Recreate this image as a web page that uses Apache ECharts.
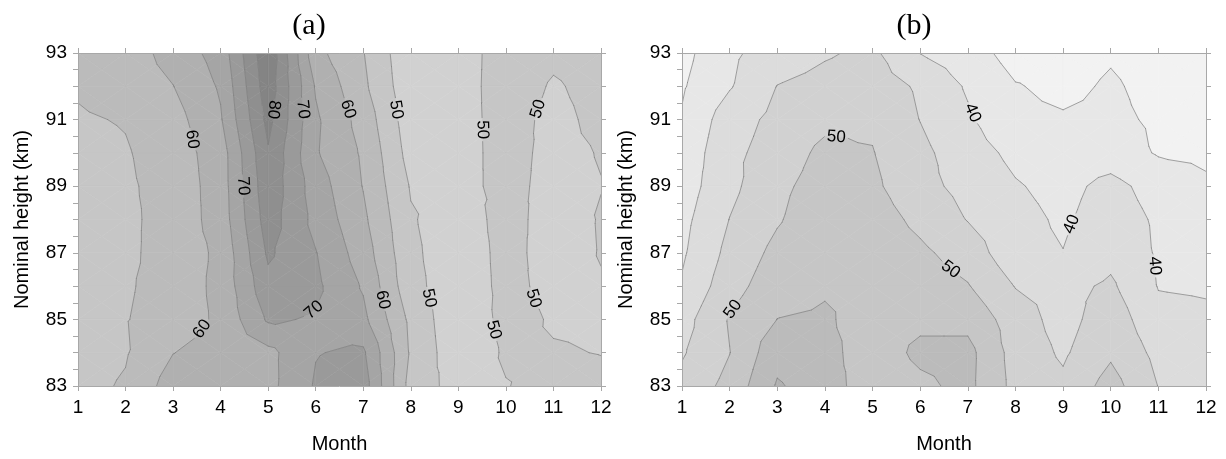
<!DOCTYPE html>
<html>
<head>
<meta charset="utf-8">
<script src="https://cdn.jsdelivr.net/npm/echarts@6/dist/echarts.min.js"></script>
<style>
  html, body { margin: 0; padding: 0; background: #ffffff; }
  #chart { width: 1226px; height: 459px; }
</style>
</head>
<body>
<div id="chart"></div>
<script>
// Grid coordinates of the gridded fields
const months = [1, 2, 3, 4, 5, 6, 7, 8, 9, 10, 11, 12];
const heights = [93, 92, 91, 90, 89, 88, 87, 86, 85, 84, 83];

// Panel (a): one row per height (93 km at the top), one column per month
const valuesA = [
  [56, 57.3, 62, 67, 84, 61.5, 55.2, 46, 47, 53, 51, 52],
  [55.5, 57, 59.9, 65.6, 83, 64.5, 56, 46.5, 47.5, 52.7, 49.5, 51.5],
  [54.5, 55.3, 58, 64.5, 81.5, 65.8, 58, 47, 48, 52, 48.7, 51.2],
  [53.5, 54.6, 57.5, 62.5, 79.5, 65.5, 59.3, 48, 48.5, 51.4, 48.9, 50.2],
  [53, 54.3, 56.8, 62.4, 78.5, 67.5, 59.8, 49.6, 48.8, 51.1, 48.9, 49.9],
  [52.5, 54, 56.9, 62.1, 77.5, 68.5, 61, 50.5, 47, 52, 47.7, 50.3],
  [52.3, 54, 57.1, 61, 75.8, 70.2, 62.5, 51, 47, 51.5, 48.1, 50.2],
  [52.5, 54.5, 56.8, 61.4, 73.5, 71, 64.5, 51.5, 47, 51.3, 48.7, 49.7],
  [53, 54.8, 57, 61, 70.7, 69.5, 66.25, 53.75, 46, 51.5, 49.6, 49.5],
  [53, 54.6, 59.9, 62, 63.6, 69.8, 70.8, 54.3, 46.5, 50.6, 50.3, 49.9],
  [53.5, 55.5, 62.4, 63, 63.5, 70.5, 72.5, 53, 48, 49.8, 51.8, 51]
];

// Panel (b)
const valuesB = [
  [33.5, 39, 42.5, 44.5, 46, 39.9, 37.3, 33, 33, 34.5, 33, 32],
  [34.5, 39.6, 45.1, 46.5, 47.5, 44.3, 39.4, 35.3, 33.8, 35.6, 33.5, 32.5],
  [35.4, 42.7, 46.35, 48.7, 49.3, 44.9, 40.7, 36, 35.5, 36, 34.3, 33.5],
  [36.5, 43.8, 47.1, 51.3, 50.2, 46.2, 42.2, 38.8, 37, 37.5, 34.6, 34],
  [37.5, 43.75, 48.8, 52.2, 51, 46.5, 43.5, 40.4, 38.5, 41.5, 38, 35.8],
  [38.6, 45.1, 49.5, 53.5, 52.5, 48.7, 44.8, 41.5, 39.3, 42.5, 39.3, 37.5],
  [39.3, 46.4, 51.4, 54, 53.5, 51, 47.7, 41.7, 40.1, 43.5, 39.5, 38.5],
  [40.5, 48, 53, 54.5, 54, 52.5, 50.3, 44.8, 43.5, 45.8, 39.8, 39.5],
  [43, 50.4, 55.05, 55.6, 53, 54, 53.5, 47.5, 43, 48, 41.3, 40.8],
  [44.5, 49.9, 58.4, 56.5, 52.5, 56, 56.5, 48, 44.3, 49.2, 43.6, 42],
  [46.5, 51.5, 60.5, 57.5, 52, 54, 56.3, 48.5, 46, 52, 44.9, 43]
];

// Contour levels shared by both panels
const contourLevels = [30, 35, 40, 45, 50, 55, 60, 65, 70, 75, 80, 85];

// Where the level labels sit: [month, height, level]
const labelSpotsA = [
  [3.37, 90.4, 60], [4.42, 89.0, 70], [5.1, 91.3, 80], [5.71, 91.3, 70],
  [6.65, 91.3, 60], [7.7, 91.3, 50], [9.5, 90.7, 50], [10.61, 91.35, 50],
  [3.56, 84.76, 60], [5.95, 85.3, 70], [7.45, 85.6, 60], [8.25, 85.6, 50],
  [9.78, 84.7, 50], [10.63, 85.65, 50]
];
const labelSpotsB = [
  [4.25, 90.7, 50], [2.07, 85.3, 50], [6.69, 86.6, 50],
  [7.1, 91.2, 40], [9.1, 87.9, 40], [10.87, 86.6, 40]
];

const SANS = '"Liberation Sans", Arial, sans-serif';
const SERIF = '"Liberation Serif", "Times New Roman", serif';

function bandColor(k) {
  const lo = k === 0 ? contourLevels[0] - 5 : contourLevels[k - 1];
  const g = Math.round(242 - 11 * (lo - 30) / 5);
  return 'rgb(' + g + ',' + g + ',' + g + ')';
}

// Split every grid cell into four triangles around its centre
function triangles(values) {
  const tris = [];
  for (let r = 0; r < heights.length - 1; r++) {
    for (let c = 0; c < months.length - 1; c++) {
      const p00 = [months[c], heights[r], values[r][c]];
      const p01 = [months[c + 1], heights[r], values[r][c + 1]];
      const p10 = [months[c], heights[r + 1], values[r + 1][c]];
      const p11 = [months[c + 1], heights[r + 1], values[r + 1][c + 1]];
      const m = [(months[c] + months[c + 1]) / 2, (heights[r] + heights[r + 1]) / 2,
                 (p00[2] + p01[2] + p10[2] + p11[2]) / 4];
      tris.push([p00, p01, m], [p01, p11, m], [p11, p10, m], [p10, p00, m]);
    }
  }
  return tris;
}

function clipPoly(poly, level, keepAbove) {
  const out = [];
  for (let i = 0; i < poly.length; i++) {
    const a = poly[i], b = poly[(i + 1) % poly.length];
    const ina = keepAbove ? a[2] >= level : a[2] <= level;
    const inb = keepAbove ? b[2] >= level : b[2] <= level;
    if (ina) out.push(a);
    if (ina !== inb) {
      const t = (level - a[2]) / (b[2] - a[2]);
      out.push([a[0] + t * (b[0] - a[0]), a[1] + t * (b[1] - a[1]), level]);
    }
  }
  return out;
}

function isobands(tris) {
  const edges = [-Infinity].concat(contourLevels, [Infinity]);
  const out = [];
  tris.forEach(function (t) {
    const vmin = Math.min(t[0][2], t[1][2], t[2][2]);
    const vmax = Math.max(t[0][2], t[1][2], t[2][2]);
    for (let k = 0; k < edges.length - 1; k++) {
      if (edges[k + 1] < vmin || edges[k] > vmax) continue;
      let poly = t;
      if (isFinite(edges[k])) poly = clipPoly(poly, edges[k], true);
      if (poly.length < 3) continue;
      if (isFinite(edges[k + 1])) poly = clipPoly(poly, edges[k + 1], false);
      if (poly.length < 3) continue;
      out.push({ band: k, pts: poly });
    }
  });
  return out;
}

function isolines(tris) {
  const segs = [];
  tris.forEach(function (t) {
    contourLevels.forEach(function (L) {
      const pts = [];
      for (let i = 0; i < 3; i++) {
        const a = t[i], b = t[(i + 1) % 3];
        if ((a[2] >= L) !== (b[2] >= L)) {
          const f = (L - a[2]) / (b[2] - a[2]);
          pts.push([a[0] + f * (b[0] - a[0]), a[1] + f * (b[1] - a[1])]);
        }
      }
      if (pts.length === 2) segs.push({ level: L, a: pts[0], b: pts[1] });
    });
  });
  return segs;
}

// Remove the part of segment A->B lying inside a circle (gap behind a label)
function cutCircle(pieces, A, B, C, R) {
  const dx = B[0] - A[0], dy = B[1] - A[1];
  const fx = A[0] - C[0], fy = A[1] - C[1];
  const a = dx * dx + dy * dy;
  if (a < 1e-9) return pieces;
  const b = 2 * (dx * fx + dy * fy);
  const c = fx * fx + fy * fy - R * R;
  const disc = b * b - 4 * a * c;
  if (disc <= 0) return pieces;
  const s = Math.sqrt(disc);
  const tA = (-b - s) / (2 * a), tB = (-b + s) / (2 * a);
  const out = [];
  pieces.forEach(function (p) {
    const e1 = Math.min(p[1], tA);
    if (e1 > p[0]) out.push([p[0], e1]);
    const s2 = Math.max(p[0], tB);
    if (p[1] > s2) out.push([s2, p[1]]);
  });
  return out;
}

function makeRender(values, spots) {
  const tris = triangles(values);
  const bands = isobands(tris);
  const segs = isolines(tris);
  return function (params, api) {
    const children = [];
    bands.forEach(function (b) {
      const pts = b.pts.map(function (p) { return api.coord([p[0], p[1]]); });
      const col = bandColor(b.band);
      children.push({ type: 'polygon', silent: true, shape: { points: pts },
        style: { fill: col, stroke: col, lineWidth: 0.6 } });
    });

    const placed = spots.map(function (sp) {
      const target = api.coord([sp[0], sp[1]]);
      let best = null, bd = Infinity;
      segs.forEach(function (s) {
        if (s.level !== sp[2]) return;
        const A = api.coord(s.a), B = api.coord(s.b);
        const dx = B[0] - A[0], dy = B[1] - A[1];
        const len2 = dx * dx + dy * dy || 1e-9;
        let t = ((target[0] - A[0]) * dx + (target[1] - A[1]) * dy) / len2;
        t = Math.max(0, Math.min(1, t));
        const P = [A[0] + t * dx, A[1] + t * dy];
        const d = (P[0] - target[0]) * (P[0] - target[0]) + (P[1] - target[1]) * (P[1] - target[1]);
        if (d < bd) { bd = d; best = { P: P, dx: dx, dy: dy }; }
      });
      if (!best) return null;
      let rot = -Math.atan2(best.dy, best.dx);
      const up = 80 * Math.PI / 180, down = -100 * Math.PI / 180;
      while (rot >= up) rot -= Math.PI;
      while (rot < down) rot += Math.PI;
      return { level: sp[2], P: best.P, rot: rot };
    }).filter(Boolean);

    segs.forEach(function (s) {
      const A = api.coord(s.a), B = api.coord(s.b);
      let pieces = [[0, 1]];
      placed.forEach(function (lb) {
        if (lb.level === s.level) pieces = cutCircle(pieces, A, B, lb.P, 12);
      });
      pieces.forEach(function (p) {
        children.push({ type: 'line', silent: true,
          shape: { x1: A[0] + p[0] * (B[0] - A[0]), y1: A[1] + p[0] * (B[1] - A[1]),
                   x2: A[0] + p[1] * (B[0] - A[0]), y2: A[1] + p[1] * (B[1] - A[1]) },
          style: { stroke: '#808080', lineWidth: 0.7, lineCap: 'round' } });
      });
    });

    placed.forEach(function (lb) {
      children.push({ type: 'text', silent: true, x: lb.P[0], y: lb.P[1], rotation: lb.rot,
        style: { text: String(lb.level), x: 0, y: 0, fill: '#000',
          font: '17px ' + SANS, align: 'center', verticalAlign: 'middle',
          textAlign: 'center', textVerticalAlign: 'middle' } });
    });
    return { type: 'group', children: children };
  };
}

const axisGray = '#a8a8a8';

function bottomAxis(gi) {
  return {
    gridIndex: gi, type: 'value', position: 'bottom', min: 1, max: 12, interval: 1, z: 10,
    axisLine: { show: true, onZero: false, lineStyle: { color: axisGray, width: 1 } },
    axisTick: { show: true, inside: false, length: 5, lineStyle: { color: axisGray } },
    axisLabel: { show: true, margin: 12, color: '#000', fontSize: 19, fontFamily: SANS },
    splitLine: { show: false },
    name: 'Month', nameLocation: 'middle', nameGap: 48,
    nameTextStyle: { color: '#000', fontSize: 20, fontFamily: SANS }
  };
}
function topAxis(gi) {
  return {
    gridIndex: gi, type: 'value', position: 'top', min: 1, max: 12, interval: 1, z: 10,
    axisLine: { show: true, onZero: false, lineStyle: { color: axisGray, width: 1 } },
    axisTick: { show: true, inside: false, length: 5, lineStyle: { color: axisGray } },
    axisLabel: { show: false }, splitLine: { show: false }
  };
}
function leftAxis(gi) {
  return {
    gridIndex: gi, type: 'value', position: 'left', min: 83, max: 93, interval: 0.5, z: 10,
    axisLine: { show: true, onZero: false, lineStyle: { color: axisGray, width: 1 } },
    axisTick: { show: true, inside: false, length: 5, lineStyle: { color: axisGray } },
    axisLabel: {
      show: true, margin: 11, color: '#000', fontSize: 19, fontFamily: SANS,
      showMinLabel: true, showMaxLabel: true, hideOverlap: false, interval: 0,
      formatter: function (v) {
        const r = Math.round(v);
        return (Math.abs(v - r) < 1e-6 && Math.abs(r % 2) === 1) ? String(r) : '';
      }
    },
    splitLine: { show: false },
    name: 'Nominal height (km)', nameLocation: 'middle', nameGap: 46,
    nameTextStyle: { color: '#000', fontSize: 20, fontFamily: SANS }
  };
}
function rightAxis(gi) {
  return {
    gridIndex: gi, type: 'value', position: 'right', min: 83, max: 93, interval: 1, z: 10,
    axisLine: { show: true, onZero: false, lineStyle: { color: axisGray, width: 1 } },
    axisTick: { show: true, inside: false, length: 5, lineStyle: { color: axisGray } },
    axisLabel: { show: false }, splitLine: { show: false }
  };
}

const chart = echarts.init(document.getElementById('chart'), null, { renderer: 'canvas' });
chart.setOption({
  animation: false,
  backgroundColor: '#ffffff',
  grid: [
    { left: 78, top: 53, width: 523, height: 336 },
    { left: 682, top: 53, width: 524, height: 336 }
  ],
  xAxis: [bottomAxis(0), topAxis(0), bottomAxis(1), topAxis(1)],
  yAxis: [leftAxis(0), rightAxis(0), leftAxis(1), rightAxis(1)],
  graphic: [
    { type: 'text', x: 309, y: 26, silent: true,
      style: { text: '(a)', fill: '#000', font: '30px ' + SERIF,
        align: 'center', verticalAlign: 'middle', textAlign: 'center', textVerticalAlign: 'middle' } },
    { type: 'text', x: 914, y: 26, silent: true,
      style: { text: '(b)', fill: '#000', font: '30px ' + SERIF,
        align: 'center', verticalAlign: 'middle', textAlign: 'center', textVerticalAlign: 'middle' } }
  ],
  series: [
    { type: 'custom', coordinateSystem: 'cartesian2d', xAxisIndex: 0, yAxisIndex: 0,
      data: [[1, 83]], renderItem: makeRender(valuesA, labelSpotsA), clip: true, silent: true, z: 1 },
    { type: 'custom', coordinateSystem: 'cartesian2d', xAxisIndex: 2, yAxisIndex: 2,
      data: [[1, 83]], renderItem: makeRender(valuesB, labelSpotsB), clip: true, silent: true, z: 1 }
  ]
});
</script>
</body>
</html>
